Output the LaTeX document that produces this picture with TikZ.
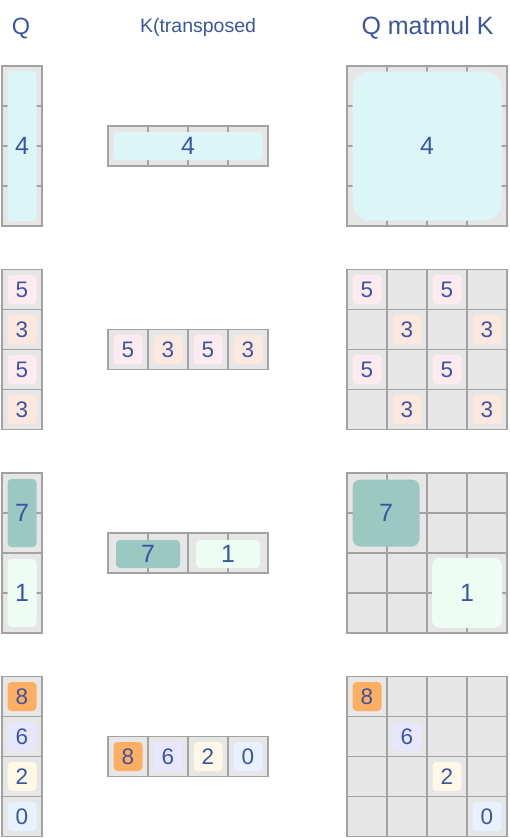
\documentclass[tikz,border=0pt]{standalone}
\usepackage{fontspec}
\setmainfont{Liberation Sans}
\usepackage{xcolor}
\usepackage{tikz}
\definecolor{ink}{HTML}{3A55A6}
\definecolor{cellbg}{HTML}{E6E6E6}
\definecolor{cellline}{HTML}{A2A2A2}
\definecolor{cyanv}{HTML}{DCF5F7}
\definecolor{pinkv}{HTML}{FDEBF0}
\definecolor{peachv}{HTML}{FDE8DE}
\definecolor{tealv}{HTML}{9BC8C0}
\definecolor{mintv}{HTML}{EEFDF4}
\definecolor{orangev}{HTML}{FDAE61}
\definecolor{lilacv}{HTML}{E6E7FC}
\definecolor{creamv}{HTML}{FEF8E6}
\definecolor{bluev}{HTML}{E8F1FE}

\begin{document}
\begin{tikzpicture}[x=1pt, y=-1pt,
    font=\fontsize{22.5}{22.5}\selectfont,
    title/.style={text=ink, inner sep=0pt, anchor=base},
    cellframe/.style={draw=cellline, fill=cellbg, line width=1.6pt},
    cellsep/.style={draw=cellline, line width=1.6pt},
    valbox/.style={text=ink, inner sep=0pt, rounded corners=4pt, minimum width=29pt, minimum height=29pt},
    bigval/.style={valbox, font=\fontsize{25}{25}\selectfont}
  ]
    \useasboundingbox (0,0) rectangle (509,838);

    % headings
    \node[title, font=\fontsize{23.5}{23.5}\selectfont] (tq) at (21,34.3) {Q};
    \node[title, font=\fontsize{19.5}{19.5}\selectfont] (tk) at (198,32.3) {K(transposed};
    \node[title, font=\fontsize{25}{25}\selectfont] (tm) at (427.5,34.7) {Q matmul K};

    % empty grids: Q column, K row, product
    \foreach \t in {66,269.5,473,676.5}{
      \draw[cellframe] (2,\t) rectangle ++(40,160);
      \draw[cellframe] (108,\t+60) rectangle ++(160,40);
      \draw[cellframe] (347,\t) rectangle ++(160,160);
      \foreach \i in {40,80,120}{
        \draw[cellsep] (2,\t+\i) -- ++(40,0);
        \draw[cellsep] (108+\i,\t+60) -- ++(0,40);
        \draw[cellsep] (347+\i,\t) -- ++(0,160);
        \draw[cellsep] (347,\t+\i) -- ++(160,0);
      }
    }

    % block 1
    \node[bigval, fill=cyanv, minimum height=150pt] (q1) at (22,146) {4};
    \node[bigval, fill=cyanv, minimum width=149pt, minimum height=28pt] (k1) at (188,146) {4};
    \node[bigval, fill=cyanv, minimum size=149pt, rounded corners=17pt] (m1) at (427,146) {4};

    % block 2
    \foreach \v/\c [count=\i] in {5/pinkv,3/peachv,5/pinkv,3/peachv}{
      \node[valbox, fill=\c] (q2-\i) at (22,249.5+40*\i) {\v};
      \node[valbox, fill=\c] (k2-\i) at (88+40*\i,349.5) {\v};
    }
    \node[valbox, fill=pinkv] (m2-11) at (367,289.5) {5};
    \node[valbox, fill=pinkv] (m2-13) at (447,289.5) {5};
    \node[valbox, fill=peachv] (m2-22) at (407,329.5) {3};
    \node[valbox, fill=peachv] (m2-24) at (487,329.5) {3};
    \node[valbox, fill=pinkv] (m2-31) at (367,369.5) {5};
    \node[valbox, fill=pinkv] (m2-33) at (447,369.5) {5};
    \node[valbox, fill=peachv] (m2-42) at (407,409.5) {3};
    \node[valbox, fill=peachv] (m2-44) at (487,409.5) {3};

    % block 3
    \node[bigval, fill=tealv, minimum height=68pt] (q3-1) at (22,513) {7};
    \node[bigval, fill=mintv, minimum height=68pt] (q3-2) at (22,593) {1};
    \node[bigval, fill=tealv, minimum width=64pt, minimum height=28pt] (k3-1) at (148,554) {7};
    \node[bigval, fill=mintv, minimum width=64pt, minimum height=28pt] (k3-2) at (228,554) {1};
    \node[bigval, fill=tealv, minimum size=67pt, rounded corners=8pt] (m3-1) at (386,513) {7};
    \node[bigval, fill=mintv, minimum size=70pt, rounded corners=8pt] (m3-2) at (467,593) {1};

    % block 4
    \foreach \v/\c [count=\i] in {8/orangev,6/lilacv,2/creamv,0/bluev}{
      \node[valbox, fill=\c] (q4-\i) at (22,656.5+40*\i) {\v};
      \node[valbox, fill=\c] (k4-\i) at (88+40*\i,756.5) {\v};
      \node[valbox, fill=\c] (m4-\i) at (327+40*\i,656.5+40*\i) {\v};
    }
  \end{tikzpicture}
\end{document}
